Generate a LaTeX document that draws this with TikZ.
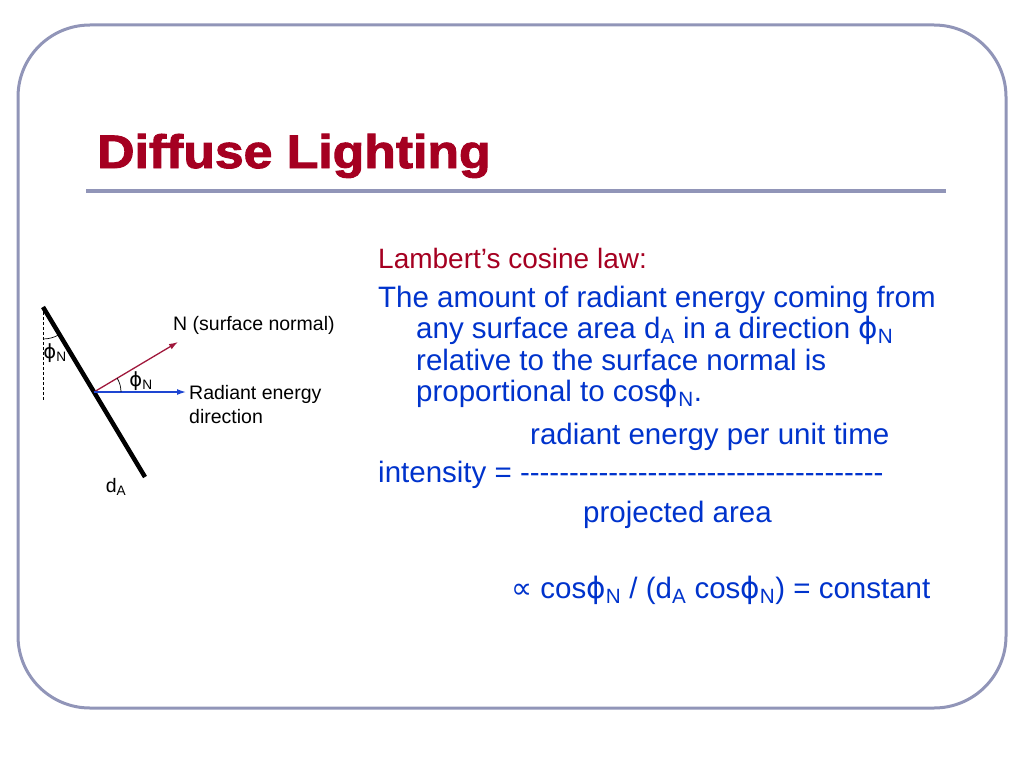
\documentclass[tikz,border=0pt]{standalone}
\usepackage{fontspec}
\setmainfont{Liberation Sans}
\newfontfamily\symfont{DejaVu Sans}
\newfontfamily\titlefont{Liberation Sans Bold}[FakeBold=2]
\usetikzlibrary{arrows.meta, calc}
\definecolor{framegray}{HTML}{9195B8}
\definecolor{titlered}{HTML}{A50021}
\definecolor{textblue}{HTML}{0033CC}
\definecolor{normalred}{HTML}{A0183C}
\definecolor{arrowblue}{HTML}{1E46D2}
\newcommand\bodysize{\fontsize{29.5}{32}\selectfont}
\newcommand\labelsize{\fontsize{19.5}{24}\selectfont}
\newcommand\dashrow{\foreach \k in {1,...,37}{-\kern0pt}}
\newcommand\phiN{{\symfont ϕ}\textsubscript{N}}

\begin{document}
\begin{tikzpicture}[x=1pt, y=-1pt,
  bodytext/.style={anchor=base west, inner sep=0pt, text=textblue, font=\bodysize},
  figlabel/.style={inner sep=0pt, font=\labelsize},
  vector/.style={line width=1.3pt, -{Latex[length=9pt,width=6pt]}}]
\useasboundingbox (0,0) rectangle (1024,768);
% slide frame and title
\draw[framegray, line width=3pt, rounded corners=72pt] (18,25) rectangle (1006,708);
\node[anchor=base west, inner sep=0pt, text=titlered, font=\fontsize{47}{50}\titlefont, xscale=1.1] (title) at (97,168) {Diffuse Lighting};
\coordinate (ruleL) at (86,191);
\coordinate (ruleR) at (946,191);
\draw[framegray, line width=4pt] (ruleL) -- (ruleR);

% Lambert's law text
\node[anchor=base west, inner sep=0pt, text=titlered, font=\fontsize{28}{32}\selectfont] (lambert) at (378,268) {Lambert’s cosine law:};
\node[bodytext] (line1) at (378,307) {The amount of radiant energy coming from};
\node[bodytext] (line2) at (416,338) {any surface area d\textsubscript{A} in a direction \phiN};
\node[bodytext] (line3) at (416,370) {relative to the surface normal is};
\node[bodytext] (line4) at (416,401) {proportional to cos\phiN.};
\node[bodytext] (numer) at (530,444) {radiant energy per unit time};
\node[bodytext] (intens) at (378,482) {intensity = \dashrow};
\node[bodytext] (denom) at (583,522) {projected area};
\node[bodytext] (propto) at (511,598) {{\symfont ∝} cos\phiN{} / (d\textsubscript{A} cos\phiN) = constant};

% surface patch with normal and light direction
\coordinate (top) at (43,307);
\coordinate (bot) at (145,477);
\coordinate (plumb) at (43,400);
\coordinate (hit) at ($(top)!0.5!(bot)$);
\coordinate (normtip) at (178,342);
\coordinate (raytip) at (186,392);
\draw[dash pattern=on 3pt off 2pt, line width=0.7pt] (top) -- (plumb);
\draw[line width=4.5pt] (top) -- (bot);
\draw[vector, normalred] (hit) -- (normtip);
\draw[vector, arrowblue] (hit) -- (raytip);
\draw[line width=0.7pt] (top) ++(-90:32pt) arc[start angle=-90, end angle=-59, radius=32pt];
\draw[line width=0.7pt] (hit) ++(0:27pt) arc[start angle=0, end angle=31, radius=27pt];
\node[figlabel] (phitop) at (55,353) {\phiN};
\node[figlabel] (phibot) at (141,381) {\phiN};
\node[figlabel, anchor=west] (normlabel) at (173,325) {N (surface normal)};
\node[figlabel, anchor=west, align=left] (dirlabel) at (189,405) {Radiant energy\\direction};
\node[figlabel] (dlabel) at (116,487) {d\textsubscript{A}};
\end{tikzpicture}
\end{document}
